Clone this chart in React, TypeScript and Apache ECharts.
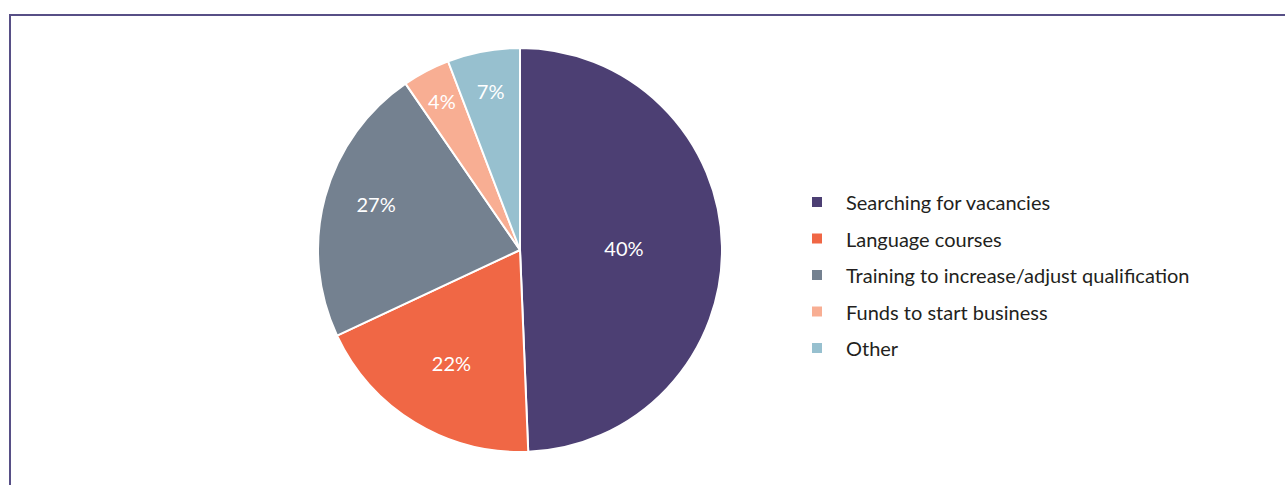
import React, { useEffect, useRef } from "react";
import * as echarts from "echarts";

const categories = [
  "Searching for vacancies",
  "Language courses",
  "Training to increase/adjust qualification",
  "Funds to start business",
  "Other",
];
// slice sizes as drawn (share of the circle, %)
const sliceValues = [49.4, 18.7, 22.4, 3.8, 5.8];
// percentage labels printed on the slices
const labelTexts = ["40%", "22%", "27%", "4%", "7%"];
const colors = ["#4c3f73", "#f06745", "#748190", "#f8ae93", "#97c0cf"];

const R = 202;
const CX = 520;
const CY = 250;
const labelRadius = [101, 129, 148, 165, 159];
const labelAngleShift = [0, 0, 2.5, 0, 0];

export default function App() {
  const ref = useRef<HTMLDivElement>(null);
  useEffect(() => {
    if (!ref.current) return;
    const chart = echarts.init(ref.current, undefined, { renderer: "svg" });
    const total = sliceValues.reduce((a, b) => a + b, 0);
    const mids: number[] = [];
    let acc = 0;
    sliceValues.forEach((v) => {
      mids.push(((acc + v / 2) / total) * Math.PI * 2);
      acc += v;
    });
    chart.setOption({
      animation: false,
      graphic: [
        {
          type: "rect",
          shape: { x: 10, y: 15, width: 1400, height: 600 },
          style: { fill: "none", stroke: "#574f86", lineWidth: 2 },
          silent: true,
        },
      ],
      legend: {
        orient: "vertical",
        left: 810,
        top: 192,
        padding: 0,
        itemWidth: 12,
        itemHeight: 12,
        itemGap: 16.5,
        icon: "rect",
        data: categories,
        textStyle: {
          fontFamily: "Lato",
          fontSize: 20,
          lineHeight: 20,
          color: "#231f20",
          padding: [0, 0, 0, 18],
        },
      },
      series: [
        {
          type: "pie",
          center: [CX, CY],
          radius: [0, R],
          startAngle: 90,
          clockwise: true,
          itemStyle: { borderColor: "#ffffff", borderWidth: 2 },
          label: {
            show: true,
            position: "inside",
            color: "#ffffff",
            fontFamily: "Lato",
            fontSize: 20,
            formatter: (p: any) => labelTexts[p.dataIndex],
          },
          labelLine: { show: false },
          labelLayout: (p: any) => {
            const i = p.dataIndex;
            const mid = mids[i];
            const a = mid + (labelAngleShift[i] * Math.PI) / 180;
            const r = labelRadius[i];
            const h = R / 2;
            return {
              dx: r * Math.sin(a) - h * Math.sin(mid),
              dy: -r * Math.cos(a) + h * Math.cos(mid),
            };
          },
          emphasis: { disabled: true },
          data: categories.map((name, i) => ({
            name,
            value: sliceValues[i],
            itemStyle: { color: colors[i] },
          })),
        },
      ],
    });
    return () => chart.dispose();
  }, []);
  return (
    <div
      ref={ref}
      style={{ position: "absolute", left: 0, top: 0, width: 1285, height: 485, background: "#ffffff" }}
    />
  );
}
